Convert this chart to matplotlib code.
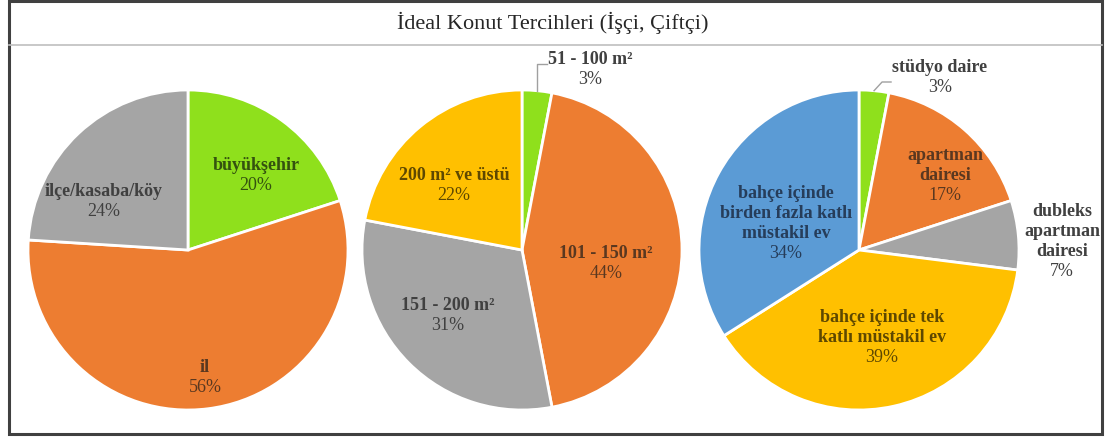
import numpy as np
import matplotlib.pyplot as plt
from matplotlib.patches import Rectangle

plt.rcParams['font.family'] = ['Liberation Serif', 'DejaVu Serif']

title = "İdeal Konut Tercihleri (İşçi, Çiftçi)"

# pie 1: yer tercihi
loc_labels = ["büyükşehir", "il", "ilçe/kasaba/köy"]
loc_values = [20, 56, 24]

# pie 2: konut büyüklüğü
size_labels = ["51 - 100 m²", "101 - 150 m²", "151 - 200 m²", "200 m² ve üstü"]
size_values = [3, 44, 31, 22]

# pie 3: konut tipi
type_labels = ["stüdyo daire", "apartman\ndairesi", "dubleks\napartman\ndairesi",
               "bahçe içinde tek\nkatlı müstakil ev",
               "bahçe içinde\nbirden fazla katlı\nmüstakil ev"]
type_values = [3, 17, 7, 39, 34]

GREEN, ORANGE, GRAY, YELLOW, BLUE = "#8fe01c", "#ed7d31", "#a5a5a5", "#ffc000", "#5b9bd5"
loc_colors = [GREEN, ORANGE, GRAY]
size_colors = [GREEN, ORANGE, GRAY, YELLOW]
type_colors = [GREEN, ORANGE, GRAY, YELLOW, BLUE]

# label text colour per slice colour
text_col = {GREEN: "#34520f", ORANGE: "#5a3820", GRAY: "#404040",
            YELLOW: "#5e4800", BLUE: "#263d5a"}

W, H = 1105, 437
fig = plt.figure(figsize=(W / 100, H / 100), dpi=100)
ax = fig.add_axes([0, 0, 1, 1])

R = 160
FS = 13
pies = [
    # center (px), values, labels, colours, label positions (px), outside flags
    ((188, 250), loc_values, loc_labels, loc_colors,
     [(256, 165), (205, 368), (104, 191)], [False, False, False]),
    ((522, 250), size_values, size_labels, size_colors,
     [(590, 60), (606, 253), (448, 306), (454, 175)], [True, False, False, False]),
    ((859, 250), type_values, type_labels, type_colors,
     [(940, 68), (945, 155), (1062, 212), (882, 317), (786, 193)],
     [True, False, True, False, False]),
]

for (cx, cy), vals, labs, cols, pos, outside in pies:
    ax.pie(vals, colors=cols, startangle=90, counterclock=False,
           center=(cx, H - cy), radius=R,
           wedgeprops=dict(edgecolor="white", linewidth=2))
    for v, lab, c, (lx, ly), out in zip(vals, labs, cols, pos, outside):
        tc = "#404040" if out else text_col[c]
        lines = lab.split("\n")
        for i, line in enumerate(lines):
            ax.text(lx, H - (ly + 20 * i), line, ha="center", va="center",
                    fontsize=FS, fontweight="bold", color=tc)
        ax.text(lx, H - (ly + 20 * len(lines)), f"{v}%", ha="center", va="center",
                fontsize=FS, color=tc)

# leader lines for the small outside slices
ang = np.deg2rad(90 - size_values[0] / sum(size_values) * 180)
x0, y0 = 522 + R * np.cos(ang), H - 250 + R * np.sin(ang)
ax.plot([x0, x0, x0 + 10], [y0, H - 64, H - 64], color="#a0a0a0", lw=1)
ang = np.deg2rad(90 - type_values[0] / sum(type_values) * 180)
x0, y0 = 859 + R * np.cos(ang), H - 250 + R * np.sin(ang)
ax.plot([x0, x0 + 8, x0 + 17], [y0, H - 82, H - 82], color="#a0a0a0", lw=1)

ax.set_xlim(0, W)
ax.set_ylim(0, H)
ax.axis("off")

# frame and title band
ax.add_patch(Rectangle((9, H - 434), 1093, 433, fill=False, edgecolor="#404040",
                       lw=2.2, zorder=5))
ax.plot([9, 1102], [H - 45, H - 45], color="#bfbfbf", lw=1.2, zorder=5)
ax.text(W / 2, H - 23, title, ha="center", va="center", fontsize=16, color="#262626")

fig.savefig("out.png", dpi=100)
